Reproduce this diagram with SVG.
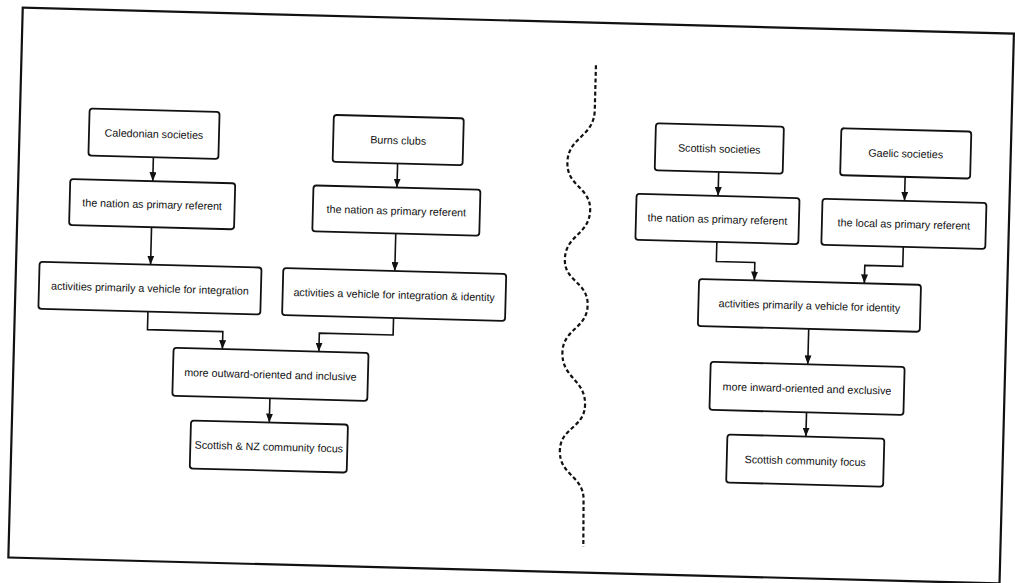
<svg xmlns="http://www.w3.org/2000/svg" width="1015" height="583" viewBox="0 0 1015 583">
  <style>
    .box { fill: #ffffff; stroke: #111111; stroke-width: 1.8; }
    .lbl { font-family: "Liberation Sans", Arial, sans-serif; font-size: 10.7px; fill: #111111; text-anchor: middle; dominant-baseline: central; }
    .conn { fill: none; stroke: #111111; stroke-width: 1.6; marker-end: url(#arrow); }
    .frame { fill: none; stroke: #111111; stroke-width: 2.2; }
    .divider { fill: none; stroke: #111111; stroke-width: 2.2; stroke-dasharray: 4 2.6; }
  </style>
  <defs>
    <marker id="arrow" markerUnits="userSpaceOnUse" markerWidth="9" markerHeight="7" refX="9" refY="3.5" orient="auto" viewBox="0 0 9 7">
      <path d="M0,0 L9,3.5 L0,7 Z" fill="#111111"/>
    </marker>
  </defs>
  <rect x="0" y="0" width="1015" height="583" fill="#ffffff"/>
  <g id="page" transform="rotate(1.5 507 291)">
    <rect id="frame" class="frame" x="15.5" y="20.5" width="991.5" height="550"/>
    <path id="divider" class="divider" d="M590,63 L590,108 C590,135 564,135 564,161 C564,185 588,185 588,208 C588,233 564,233 564,258 C564,280 588,280 588,303 C588,327 564,327 564,351 C564,377 588,377 588,403 C588,426 564,426 564,449 C564,474 589,474 589,498 L590,545"/>

    <g id="connectors">
      <path class="conn" d="M150,166.5 L150,190.5"/>
      <path class="conn" d="M394.3,166.5 L394.3,190.5"/>
      <path class="conn" d="M150,236.5 L150,274"/>
      <path class="conn" d="M394.3,236.5 L394.3,274"/>
      <path class="conn" d="M148.6,321 L148.6,339 L224,339 L224,356.5"/>
      <path class="conn" d="M394.3,321 L394.3,338 L320.5,338 L320.5,356.5"/>
      <path class="conn" d="M272.8,404.5 L272.8,428.7"/>
      <path class="conn" d="M715.5,166.5 L715.5,190.5"/>
      <path class="conn" d="M902,166.5 L902,190.5"/>
      <path class="conn" d="M715.5,236.5 L715.5,256 L754,256 L754,274"/>
      <path class="conn" d="M902,236.5 L902,256 L864,256 L864,274"/>
      <path class="conn" d="M809.6,321 L809.6,356.5"/>
      <path class="conn" d="M809.6,404.5 L809.6,428.7"/>
    </g>

    <g id="caledonian">
      <rect class="box" x="85" y="119.5" width="130" height="47" rx="3"/>
      <text class="lbl" x="150" y="143">Caledonian societies</text>
    </g>
    <g id="burns">
      <rect class="box" x="329.3" y="119.5" width="130" height="47" rx="3"/>
      <text class="lbl" x="394.3" y="143">Burns clubs</text>
    </g>
    <g id="scottish-soc">
      <rect class="box" x="651.5" y="119.5" width="128" height="47" rx="3"/>
      <text class="lbl" x="715.5" y="143">Scottish societies</text>
    </g>
    <g id="gaelic">
      <rect class="box" x="837" y="119.5" width="130" height="47" rx="3"/>
      <text class="lbl" x="902" y="143">Gaelic societies</text>
    </g>

    <g id="nation1">
      <rect class="box" x="67.5" y="190.5" width="165" height="46" rx="3"/>
      <text class="lbl" x="150" y="213.5">the nation as primary referent</text>
    </g>
    <g id="nation2">
      <rect class="box" x="310.8" y="190.5" width="167" height="46" rx="3"/>
      <text class="lbl" x="394.3" y="213.5">the nation as primary referent</text>
    </g>
    <g id="nation3">
      <rect class="box" x="634" y="190.5" width="163" height="46" rx="3"/>
      <text class="lbl" x="715.5" y="213.5">the nation as primary referent</text>
    </g>
    <g id="local">
      <rect class="box" x="820" y="190.5" width="164" height="46" rx="3"/>
      <text class="lbl" x="902" y="213.5">the local as primary referent</text>
    </g>

    <g id="act-integration">
      <rect class="box" x="39" y="274" width="222" height="47" rx="3"/>
      <text class="lbl" x="150" y="297.5">activities primarily a vehicle for integration</text>
    </g>
    <g id="act-int-identity">
      <rect class="box" x="282.8" y="274" width="223" height="47" rx="3"/>
      <text class="lbl" x="394.3" y="297.5">activities a vehicle for integration &amp; identity</text>
    </g>
    <g id="act-identity">
      <rect class="box" x="698.7" y="274" width="222" height="47" rx="3"/>
      <text class="lbl" x="809.7" y="297.5">activities primarily a vehicle for identity</text>
    </g>

    <g id="outward">
      <rect class="box" x="175.2" y="356.5" width="195" height="48" rx="3"/>
      <text class="lbl" x="272.7" y="380.5">more outward-oriented and inclusive</text>
    </g>
    <g id="inward">
      <rect class="box" x="712.5" y="356.5" width="194" height="48" rx="3"/>
      <text class="lbl" x="809.5" y="380.5">more inward-oriented and exclusive</text>
    </g>

    <g id="scot-nz">
      <rect class="box" x="194.5" y="428.7" width="157" height="48" rx="3"/>
      <text class="lbl" x="273" y="452.7">Scottish &amp; NZ community focus</text>
    </g>
    <g id="scot-comm">
      <rect class="box" x="731.1" y="428.7" width="157" height="48" rx="3"/>
      <text class="lbl" x="809.6" y="452.7">Scottish community focus</text>
    </g>
  </g>
</svg>
